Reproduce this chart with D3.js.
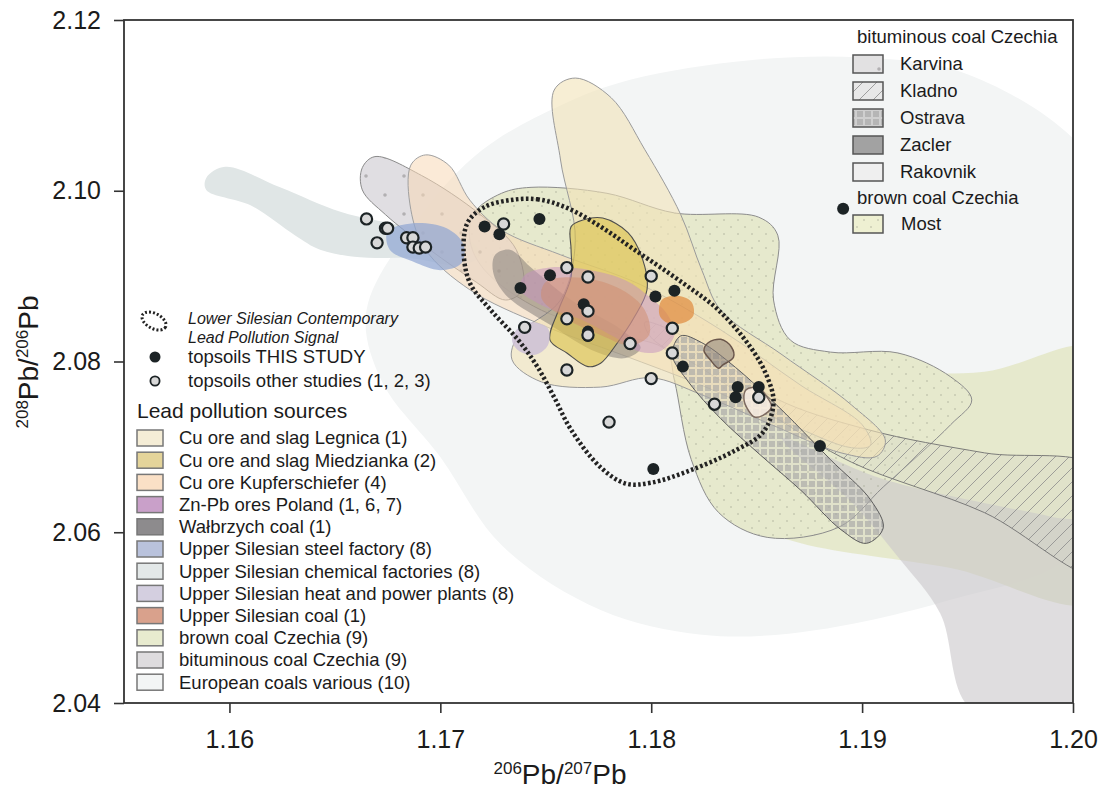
<!DOCTYPE html>
<html lang="en">
<head>
<meta charset="UTF-8" />
<title>Pb isotope plot</title>
<style>
  body { margin: 0; background: #fff; }
  text { font-family: "Liberation Sans", Arial, sans-serif; fill: #1b1b1b; }
</style>
</head>
<body>
<div id="chart"></div>
<script src="https://cdn.jsdelivr.net/npm/d3@7"></script>
<script>
// ticks
var xTicks = [1.16, 1.17, 1.18, 1.19, 1.20];
var yTicks = [2.04, 2.06, 2.08, 2.10, 2.12];

// topsoils, [206Pb/207Pb, 208Pb/206Pb]
var thisStudy = [[1.1721,2.0958],[1.1728,2.0949],[1.1747,2.0967],[1.1738,2.0886],[1.1752,2.0901],
  [1.1768,2.0867],[1.1770,2.0835],[1.1770,2.0830],[1.1802,2.0876],[1.1811,2.0883],[1.1815,2.0794],
  [1.1841,2.0770],[1.1840,2.0758],[1.1851,2.0770],[1.1880,2.0701],[1.1801,2.0674],[1.1891,2.0979]];
var otherStudies = [[1.1665,2.0967],[1.1674,2.0956],[1.1675,2.0956],[1.1670,2.0939],[1.1684,2.0945],
  [1.1687,2.0945],[1.1687,2.0934],[1.1690,2.0933],[1.1693,2.0934],[1.1730,2.0961],[1.1760,2.0910],
  [1.1770,2.0899],[1.1740,2.0840],[1.1760,2.0850],[1.1770,2.0859],[1.1770,2.0831],[1.1760,2.0790],
  [1.1790,2.0821],[1.1800,2.0900],[1.1810,2.0839],[1.1810,2.0810],[1.1800,2.0780],[1.1780,2.0729],
  [1.1830,2.0750],[1.1851,2.0758]];

// source fields (outline points)
var europeanCoals = [[1.1665,2.0860],[1.1691,2.0972],[1.1720,2.1048],[1.1757,2.1100],[1.1790,2.1130],
  [1.1847,2.1153],[1.1900,2.1156],[1.1947,2.1139],[1.2001,2.1059],[1.2032,2.0931],[1.2037,2.0755],
  [1.2001,2.0576],[1.1942,2.0521],[1.1871,2.0483],[1.1824,2.0480],[1.1776,2.0509],[1.1729,2.0585],
  [1.1700,2.0688],[1.1672,2.0778]];
var chemicalFactories = [[1.1589,2.1015],[1.1598,2.1028],[1.1624,2.1004],[1.1653,2.0975],[1.1681,2.0960],
  [1.1710,2.0948],[1.1719,2.0925],[1.1710,2.0913],[1.1686,2.0921],[1.1662,2.0922],[1.1643,2.0931],
  [1.1631,2.0948],[1.1610,2.0983],[1.1589,2.1001]];
var bituminousWide = [[1.1862,2.0710],[1.1909,2.0663],[1.1990,2.0618],[1.2013,2.0605],[1.2013,2.0380],
  [1.1952,2.0392],[1.1937,2.0505],[1.1918,2.0568],[1.1895,2.0635]];
var brownCoalBand = [[1.1824,2.0708],[1.1852,2.0761],[1.1895,2.0784],[1.1958,2.0788],[1.2013,2.0813],
  [1.2013,2.0521],[1.1942,2.0558],[1.1871,2.0587],[1.1842,2.0614],[1.1824,2.0661]];
var most = [[1.1716,2.0974],[1.1729,2.0997],[1.1743,2.1004],[1.1779,2.0997],[1.1811,2.0974],
  [1.1851,2.0969],[1.1860,2.0948],[1.1858,2.0872],[1.1866,2.0825],[1.1885,2.0811],[1.1917,2.0810],
  [1.1942,2.0782],[1.1952,2.0755],[1.1942,2.0726],[1.1910,2.0653],[1.1889,2.0606],[1.1855,2.0594],
  [1.1832,2.0623],[1.1819,2.0685],[1.1811,2.0778],[1.1807,2.0813],[1.1786,2.0831],[1.1748,2.0860],
  [1.1721,2.0907],[1.1714,2.0942]];
var kladno = [[1.1797,2.0846],[1.1824,2.0818],[1.1858,2.0758],[1.1903,2.0720],[1.1958,2.0693],
  [1.2013,2.0673],[1.2013,2.0550],[1.1958,2.0623],[1.1895,2.0682],[1.1858,2.0736],[1.1824,2.0792],
  [1.1800,2.0828]];
var karvina = [[1.1663,2.1027],[1.1669,2.1040],[1.1691,2.1018],[1.1719,2.0972],[1.1736,2.0931],
  [1.1739,2.0884],[1.1731,2.0872],[1.1717,2.0893],[1.1695,2.0931],[1.1674,2.0972],[1.1663,2.1001]];
var kupferschiefer = [[1.1686,2.1030],[1.1693,2.1042],[1.1704,2.1030],[1.1714,2.0989],[1.1729,2.0954],
  [1.1757,2.0925],[1.1795,2.0890],[1.1833,2.0837],[1.1871,2.0772],[1.1900,2.0726],[1.1904,2.0702],
  [1.1895,2.0699],[1.1866,2.0726],[1.1824,2.0772],[1.1786,2.0808],[1.1748,2.0843],[1.1714,2.0884],
  [1.1693,2.0931],[1.1686,2.0978]];
var legnica = [[1.1754,2.1118],[1.1764,2.1132],[1.1781,2.1109],[1.1797,2.1048],[1.1814,2.0972],
  [1.1824,2.0907],[1.1833,2.0860],[1.1862,2.0808],[1.1895,2.0749],[1.1911,2.0708],[1.1907,2.0689],
  [1.1890,2.0693],[1.1857,2.0726],[1.1824,2.0761],[1.1800,2.0781],[1.1776,2.0770],[1.1748,2.0776],
  [1.1734,2.0802],[1.1737,2.0831],[1.1757,2.0872],[1.1764,2.0942],[1.1757,2.1036]];
var steelFactory = [[1.1675,2.0952],[1.1687,2.0962],[1.1703,2.0956],[1.1711,2.0937],[1.1710,2.0915],
  [1.1700,2.0907],[1.1687,2.0917],[1.1676,2.0931]];
var walbrzych = [[1.1726,2.0925],[1.1733,2.0931],[1.1743,2.0910],[1.1762,2.0872],[1.1786,2.0837],
  [1.1795,2.0816],[1.1788,2.0804],[1.1774,2.0811],[1.1752,2.0843],[1.1731,2.0878],[1.1725,2.0905]];
var miedzianka = [[1.1762,2.0958],[1.1768,2.0966],[1.1777,2.0968],[1.1789,2.0951],[1.1796,2.0919],
  [1.1798,2.0884],[1.1792,2.0852],[1.1784,2.0822],[1.1776,2.0798],[1.1770,2.0794],[1.1760,2.0810],
  [1.1752,2.0825],[1.1756,2.0860],[1.1762,2.0899],[1.1762,2.0931]];
var znPbOres = [[1.1740,2.0901],[1.1752,2.0910],[1.1771,2.0907],[1.1788,2.0895],[1.1800,2.0874],
  [1.1808,2.0854],[1.1811,2.0831],[1.1805,2.0813],[1.1795,2.0811],[1.1783,2.0828],[1.1767,2.0849],
  [1.1748,2.0866],[1.1738,2.0884]];
var upperSilesianCoal = [[1.1750,2.0893],[1.1767,2.0898],[1.1786,2.0884],[1.1797,2.0860],[1.1799,2.0831],
  [1.1790,2.0819],[1.1776,2.0831],[1.1757,2.0854],[1.1748,2.0874]];
var upperSilesianCoal2 = [[1.1805,2.0872],[1.1812,2.0877],[1.1819,2.0870],[1.1820,2.0854],[1.1815,2.0845],
  [1.1808,2.0845],[1.1804,2.0854]];
var heatPower = [[1.1736,2.0837],[1.1743,2.0846],[1.1751,2.0839],[1.1751,2.0819],[1.1745,2.0808],
  [1.1737,2.0813],[1.1734,2.0825]];
var ostrava = [[1.1814,2.0830],[1.1824,2.0822],[1.1840,2.0793],[1.1862,2.0743],[1.1885,2.0685],
  [1.1904,2.0638],[1.1910,2.0605],[1.1902,2.0587],[1.1890,2.0603],[1.1871,2.0649],[1.1852,2.0690],
  [1.1833,2.0733],[1.1818,2.0775],[1.1810,2.0808]];
var zacler = [[1.1827,2.0822],[1.1833,2.0826],[1.1838,2.0817],[1.1839,2.0805],[1.1834,2.0796],
  [1.1832,2.0792],[1.1828,2.0802],[1.1825,2.0813]];
var rakovnik = [[1.1845,2.0767],[1.1851,2.0769],[1.1855,2.0758],[1.1857,2.0747],[1.1853,2.0737],
  [1.1849,2.0735],[1.1846,2.0743],[1.1844,2.0755]];
var lowerSilesianSignal = [[1.1733,2.0989],[1.1746,2.0990],[1.1760,2.0980],[1.1776,2.0958],[1.1792,2.0931],
  [1.1815,2.0892],[1.1832,2.0860],[1.1847,2.0817],[1.1855,2.0782],[1.1858,2.0751],[1.1853,2.0717],
  [1.1840,2.0696],[1.1819,2.0673],[1.1800,2.0658],[1.1788,2.0657],[1.1776,2.0676],[1.1762,2.0720],
  [1.1754,2.0758],[1.1746,2.0794],[1.1737,2.0825],[1.1724,2.0860],[1.1714,2.0892],[1.1711,2.0931],
  [1.1713,2.0963],[1.1721,2.0981]];

// legend texts
var sourceLabels = ["Cu ore and slag Legnica (1)", "Cu ore and slag Miedzianka (2)", "Cu ore Kupferschiefer (4)",
  "Zn-Pb ores Poland (1, 6, 7)", "Wałbrzych coal (1)", "Upper Silesian steel factory (8)",
  "Upper Silesian chemical factories (8)", "Upper Silesian heat and power plants (8)",
  "Upper Silesian coal (1)", "brown coal Czechia (9)", "bituminous coal Czechia (9)", "European coals various (10)"];
var bituminousLabels = ["Karvina", "Kladno", "Ostrava", "Zacler", "Rakovnik"];
var brownLabels = ["Most"];

var sourceColors = ["#f5edd6", "#e4d49a", "#fae0c6", "#c9a0c9", "#8d8b8d", "#b9c2dc",
  "#e3e8e8", "#d4cfe0", "#d9a18c", "#e8ebcf", "#dedcde", "#f3f5f5"];

var svg = d3.select("#chart").append("svg").attr("width", 1103).attr("height", 791);

var x = d3.scaleLinear().domain([1.155, 1.20]).range([124, 1073]);
var y = d3.scaleLinear().domain([2.04, 2.12]).range([703, 20]);

var defs = svg.append("defs");
defs.append("clipPath").attr("id", "plotclip").append("rect")
  .attr("x", 124).attr("y", 20).attr("width", 949).attr("height", 683);

var pDots = defs.append("pattern").attr("id", "karvinadots").attr("patternUnits", "userSpaceOnUse")
  .attr("width", 38).attr("height", 38);
pDots.append("circle").attr("cx", 5).attr("cy", 5).attr("r", 1.8).attr("fill", "#b2b0b2");
pDots.append("circle").attr("cx", 24).attr("cy", 24).attr("r", 1.8).attr("fill", "#b2b0b2");

var pMost = defs.append("pattern").attr("id", "mostdots").attr("patternUnits", "userSpaceOnUse")
  .attr("width", 14).attr("height", 14);
pMost.append("circle").attr("cx", 3).attr("cy", 3).attr("r", 0.7).attr("fill", "#a3a592");
pMost.append("circle").attr("cx", 10).attr("cy", 10).attr("r", 0.7).attr("fill", "#a3a592");

var pHatch = defs.append("pattern").attr("id", "hatch").attr("patternUnits", "userSpaceOnUse")
  .attr("width", 14).attr("height", 14);
pHatch.append("path").attr("d", "M0,14 L14,0 M-3.5,3.5 L3.5,-3.5 M10.5,17.5 L17.5,10.5")
  .attr("stroke", "#8c8c8c").attr("stroke-width", 0.8);

var pChecks = defs.append("pattern").attr("id", "checks").attr("patternUnits", "userSpaceOnUse")
  .attr("width", 8).attr("height", 8);
pChecks.append("rect").attr("x", 1).attr("y", 1).attr("width", 6).attr("height", 6)
  .attr("fill", "#a4a4a4").attr("fill-opacity", 0.6);

var outline = d3.line()
  .x(function (d) { return x(d[0]); })
  .y(function (d) { return y(d[1]); })
  .curve(d3.curveCatmullRomClosed.alpha(0.5));

var plot = svg.append("g").attr("clip-path", "url(#plotclip)");

// layer table (bottom to top)
var layers = [
  { d: outline(europeanCoals), fill: "#f3f5f5", op: 1 },
  { d: outline(chemicalFactories), fill: "#e0e6e6", op: 1 },
  { d: outline(brownCoalBand) + outline(most), fill: "#e3e6c6", op: 0.85 },
  { d: outline(bituminousWide), fill: "#c9c7ca", op: 0.6 },
  { d: outline(most), fill: "url(#mostdots)", op: 1, stroke: "#8c8c8c", sw: 1 },
  { d: outline(kladno), fill: "#cfcfc5", op: 0.25 },
  { d: outline(kladno), fill: "url(#hatch)", op: 1, stroke: "#707070", sw: 0.9 },
  { d: outline(karvina), fill: "#dbd8dd", op: 0.85 },
  { d: outline(karvina), fill: "url(#karvinadots)", op: 1, stroke: "#8a8a8a", sw: 1 },
  { d: outline(kupferschiefer), fill: "#f7d8b6", op: 0.55, stroke: "#a0a0a0", sw: 1 },
  { d: outline(legnica), fill: "#f2e2b8", op: 0.6, stroke: "#9a9a9a", sw: 1 },
  { d: outline(steelFactory), fill: "#8fa5d3", op: 0.7 },
  { d: outline(walbrzych), fill: "#6f6a6a", op: 0.45 },
  { d: outline(miedzianka), fill: "#dcc24a", op: 0.62, stroke: "#4f4f4f", sw: 1.1 },
  { d: outline(znPbOres), fill: "#c48fbf", op: 0.5 },
  { d: outline(upperSilesianCoal), fill: "#cf8c6c", op: 0.5 },
  { d: outline(upperSilesianCoal2), fill: "#e08a3c", op: 0.7 },
  { d: outline(heatPower), fill: "#cdbfd6", op: 0.85 },
  { d: outline(ostrava), fill: "#cfcdc3", op: 0.25 },
  { d: outline(ostrava), fill: "url(#checks)", op: 1, stroke: "#5a5a5a", sw: 1 },
  { d: outline(zacler), fill: "#8a8078", op: 0.55, stroke: "#6b574c", sw: 1.5 },
  { d: outline(rakovnik), fill: "#f7ece2", op: 0.85, stroke: "#7d6a60", sw: 1.5 }
];

plot.selectAll("path.field")
  .data(layers)
  .enter()
  .append("path")
  .attr("class", "field")
  .attr("d", function (l) { return l.d; })
  .attr("fill", function (l) { return l.fill; })
  .attr("fill-opacity", function (l) { return l.op; })
  .attr("stroke", function (l) { return l.stroke || "none"; })
  .attr("stroke-width", function (l) { return l.sw || 0; });

// Lower Silesian signal
plot.append("path")
  .attr("d", outline(lowerSilesianSignal))
  .attr("fill", "none")
  .attr("stroke", "#222")
  .attr("stroke-width", 4.5)
  .attr("stroke-dasharray", "2.6,2.4");

// points
plot.selectAll("circle.this")
  .data(thisStudy)
  .enter()
  .append("circle")
  .attr("class", "this")
  .attr("cx", function (d) { return x(d[0]); })
  .attr("cy", function (d) { return y(d[1]); })
  .attr("r", 6)
  .attr("fill", "#1c2325");

plot.selectAll("circle.other")
  .data(otherStudies)
  .enter()
  .append("circle")
  .attr("class", "other")
  .attr("cx", function (d) { return x(d[0]); })
  .attr("cy", function (d) { return y(d[1]); })
  .attr("r", 5.6)
  .attr("fill", "#d8d8d8")
  .attr("stroke", "#1c2325")
  .attr("stroke-width", 2.2);

// axes
var xAxis = svg.append("g")
  .attr("transform", "translate(0,703)")
  .call(d3.axisBottom(x).tickValues(xTicks).tickFormat(d3.format(".2f")).tickSize(10).tickPadding(17));
var yAxis = svg.append("g")
  .attr("transform", "translate(124,0)")
  .call(d3.axisLeft(y).tickValues(yTicks).tickFormat(d3.format(".2f")).tickSize(10).tickPadding(13));

[xAxis, yAxis].forEach(function (a) {
  a.select(".domain").remove();
  a.selectAll(".tick line").attr("stroke", "#333").attr("stroke-width", 1.6);
  a.selectAll(".tick text").attr("font-size", 25).attr("fill", "#1b1b1b")
    .attr("font-family", "Liberation Sans, Arial, sans-serif");
});

svg.append("rect")
  .attr("x", 124).attr("y", 20).attr("width", 949).attr("height", 683)
  .attr("fill", "none").attr("stroke", "#333").attr("stroke-width", 1.8);

// axis titles
var xt = svg.append("text").attr("x", 560).attr("y", 784).attr("text-anchor", "middle").attr("font-size", 28);
xt.append("tspan").attr("font-size", 17).attr("dy", -10).text("206");
xt.append("tspan").attr("dy", 10).text("Pb/");
xt.append("tspan").attr("font-size", 17).attr("dy", -10).text("207");
xt.append("tspan").attr("dy", 10).text("Pb");

var yt = svg.append("text").attr("transform", "translate(38,362) rotate(-90)")
  .attr("text-anchor", "middle").attr("font-size", 28);
yt.append("tspan").attr("font-size", 17).attr("dy", -10).text("208");
yt.append("tspan").attr("dy", 10).text("Pb/");
yt.append("tspan").attr("font-size", 17).attr("dy", -10).text("206");
yt.append("tspan").attr("dy", 10).text("Pb");

// left legend
var lg = svg.append("g");
lg.append("ellipse").attr("cx", 154).attr("cy", 321).attr("rx", 13).attr("ry", 7.5)
  .attr("transform", "rotate(28,154,321)")
  .attr("fill", "none").attr("stroke", "#222").attr("stroke-width", 3).attr("stroke-dasharray", "2,2");
lg.append("text").attr("x", 188).attr("y", 318).attr("dy", "0.35em").attr("font-size", 16)
  .attr("font-style", "italic").text("Lower Silesian Contemporary");
lg.append("text").attr("x", 188).attr("y", 337).attr("dy", "0.35em").attr("font-size", 16)
  .attr("font-style", "italic").text("Lead Pollution Signal");
lg.append("circle").attr("cx", 155).attr("cy", 357).attr("r", 5.5).attr("fill", "#1c2325");
lg.append("text").attr("x", 188).attr("y", 357).attr("dy", "0.35em").attr("font-size", 18.5).text("topsoils THIS STUDY");
lg.append("circle").attr("cx", 155).attr("cy", 381).attr("r", 4.6).attr("fill", "#d8d8d8")
  .attr("stroke", "#1c2325").attr("stroke-width", 1.8);
lg.append("text").attr("x", 188).attr("y", 381).attr("dy", "0.35em").attr("font-size", 18.5).text("topsoils other studies (1, 2, 3)");
lg.append("text").attr("x", 137).attr("y", 411).attr("dy", "0.35em").attr("font-size", 21).text("Lead pollution sources");

var rows = lg.selectAll("g.src").data(sourceLabels).enter().append("g")
  .attr("class", "src")
  .attr("transform", function (d, i) { return "translate(0," + (438 + i * 22.2) + ")"; });
rows.append("rect").attr("x", 137).attr("y", -8).attr("width", 26).attr("height", 16)
  .attr("fill", function (d, i) { return sourceColors[i]; })
  .attr("stroke", "#777").attr("stroke-width", 1.5);
rows.append("text").attr("x", 179).attr("dy", "0.35em").attr("font-size", 18.5).text(function (d) { return d; });

// right legend
var rg = svg.append("g");
var swatchFill = ["#e2e1e2", "#e8e8e8", "#cfcfcf", "#a2a2a2", "#efefef"];
var swatchPat = ["url(#karvinadots)", "url(#hatch)", "url(#checks)", null, null];
rg.append("text").attr("x", 857).attr("y", 37).attr("dy", "0.35em").attr("font-size", 18.5).text("bituminous coal Czechia");
var br = rg.selectAll("g.bit").data(bituminousLabels).enter().append("g")
  .attr("class", "bit")
  .attr("transform", function (d, i) { return "translate(0," + (64 + i * 27) + ")"; });
br.append("rect").attr("x", 853).attr("y", -9).attr("width", 30).attr("height", 18)
  .attr("fill", function (d, i) { return swatchFill[i]; });
br.append("rect").attr("x", 853).attr("y", -9).attr("width", 30).attr("height", 18)
  .attr("fill", function (d, i) { return swatchPat[i] || "none"; })
  .attr("stroke", "#555").attr("stroke-width", 1.5);
br.append("text").attr("x", 900).attr("dy", "0.35em").attr("font-size", 18.5).text(function (d) { return d; });
rg.append("text").attr("x", 857).attr("y", 198).attr("dy", "0.35em").attr("font-size", 18.5).text("brown coal Czechia");
var mr = rg.selectAll("g.brn").data(brownLabels).enter().append("g")
  .attr("class", "brn")
  .attr("transform", "translate(0,224)");
mr.append("rect").attr("x", 853).attr("y", -9).attr("width", 30).attr("height", 18).attr("fill", "#eef0d2");
mr.append("rect").attr("x", 853).attr("y", -9).attr("width", 30).attr("height", 18)
  .attr("fill", "url(#mostdots)").attr("stroke", "#555").attr("stroke-width", 1.5);
mr.append("text").attr("x", 901).attr("dy", "0.35em").attr("font-size", 18.5).text(function (d) { return d; });
</script>
</body>
</html>
